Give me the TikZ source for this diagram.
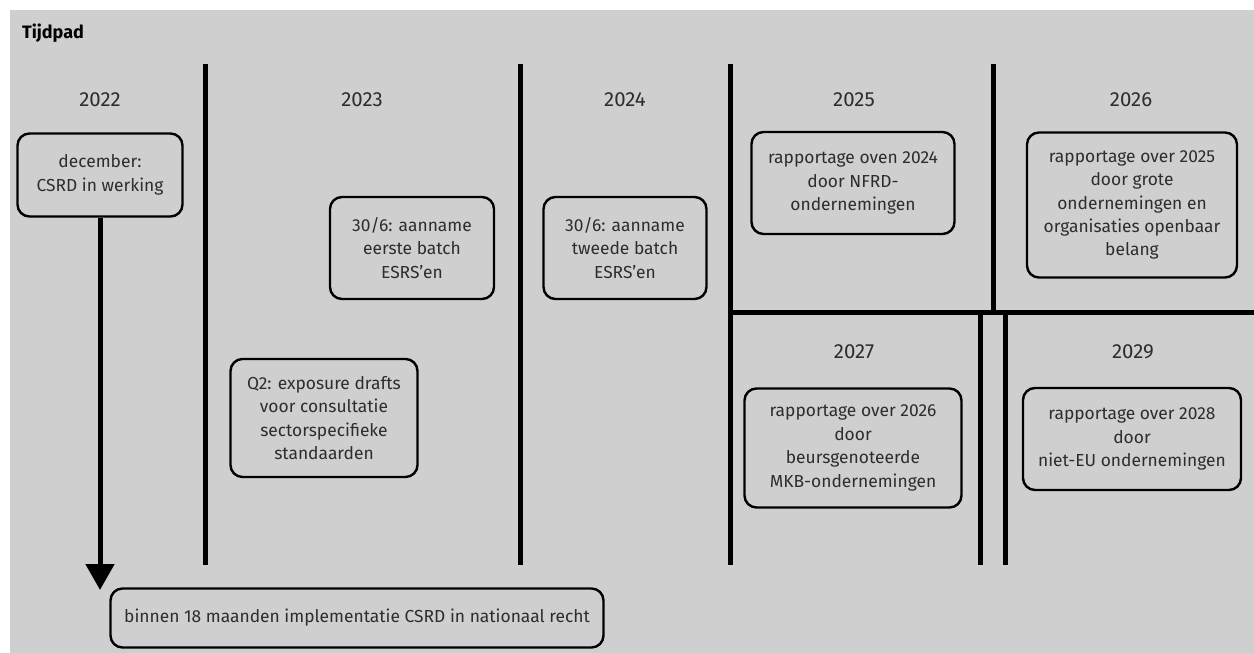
\documentclass[tikz,border=0pt]{standalone}
\usepackage{fontspec}
\setmainfont{Fira Sans}
\usetikzlibrary{positioning,backgrounds,arrows.meta}
\definecolor{fondgris}{RGB}{207,207,207}
\definecolor{texte}{RGB}{45,45,45}

\begin{document}
\begin{tikzpicture}[x=0.5pt,y=-0.5pt]
        \tikzset{
          boite/.style={
            draw=black,line width=1.2pt,rounded corners=6pt,align=center,
            font=\fontsize{8.7}{11.7}\selectfont,text=texte,inner sep=1pt,
          },
          annee/.style={font=\fontsize{10.2}{11}\selectfont,text=texte},
          trait/.style={line width=2.5pt,draw=black},
          fleche/.style={trait,-{Triangle[width=14pt,length=13pt]}},
          }
        \useasboundingbox (0,0) rectangle (1254,653);
        \fill[white] (0,0) rectangle (1254,653);
        \fill[fondgris] (10,10) rectangle (1254,653);

        \node[anchor=west, font=\fontsize{9}{11}\selectfont\bfseries] (titre) at (15,33) {Tijdpad};

        % jaren
        \node[annee] (j2022) at (100,100) {2022};
        \node[annee] (j2023) at (362,100) {2023};
        \node[annee] (j2024) at (625,100) {2024};
        \node[annee] (j2025) at (854,100) {2025};
        \node[annee] (j2026) at (1131,100) {2026};
        \node[annee] (j2027) at (854,352) {2027};
        \node[annee] (j2029) at (1133,352) {2029};

        % scheidingslijnen
        \draw[trait] (205,64) -- (205,565);
        \draw[trait] (520,64) -- (520,565);
        \draw[trait] (730,64) -- (730,565);
        \draw[trait] (993,64) -- (993,312);
        \draw[trait] (730,312) -- (1254,312);
        \draw[trait] (980,312) -- (980,565);
        \draw[trait] (1005,312) -- (1005,565);

        % gebeurtenissen
        \node[boite, minimum width=82.5pt, minimum height=41.5pt] (dec) at (100,175) {december:\\CSRD in werking};
        \node[boite, minimum width=82pt, minimum height=51pt] (eerste) at (412,248) {30/6: aanname\\eerste batch\\ESRS'en};
        \node[boite, minimum width=93.5pt, minimum height=59pt] (qtwee) at (324,418) {Q2: exposure drafts\\voor consultatie\\sectorspecifieke\\standaarden};
        \node[boite, minimum width=81.5pt, minimum height=51pt] (tweede) at (625,248) {30/6: aanname\\tweede batch\\ESRS'en};
        \node[boite, minimum width=101.5pt, minimum height=51pt] (nfrd) at (853,183) {rapportage oven 2024\\door NFRD-\\ondernemingen};
        \node[boite, minimum width=105pt, minimum height=72.5pt] (grote) at (1132,205) {rapportage over 2025\\door grote\\ondernemingen en\\organisaties openbaar\\belang};
        \node[boite, minimum width=108.5pt, minimum height=59.5pt] (mkb) at (853,448) {rapportage over 2026\\door\\beursgenoteerde\\MKB-ondernemingen};
        \node[boite, minimum width=109pt, minimum height=51pt] (nieteu) at (1132,439) {rapportage over 2028\\door\\niet-EU ondernemingen};
        \node[boite, minimum width=246.5pt, minimum height=29.5pt] (impl) at (357,618) {binnen 18 maanden implementatie CSRD in nationaal recht};

        \coordinate (pointe) at (100,590);
        \draw[fleche] (dec.south) -- (pointe);
      \end{tikzpicture}
\end{document}
